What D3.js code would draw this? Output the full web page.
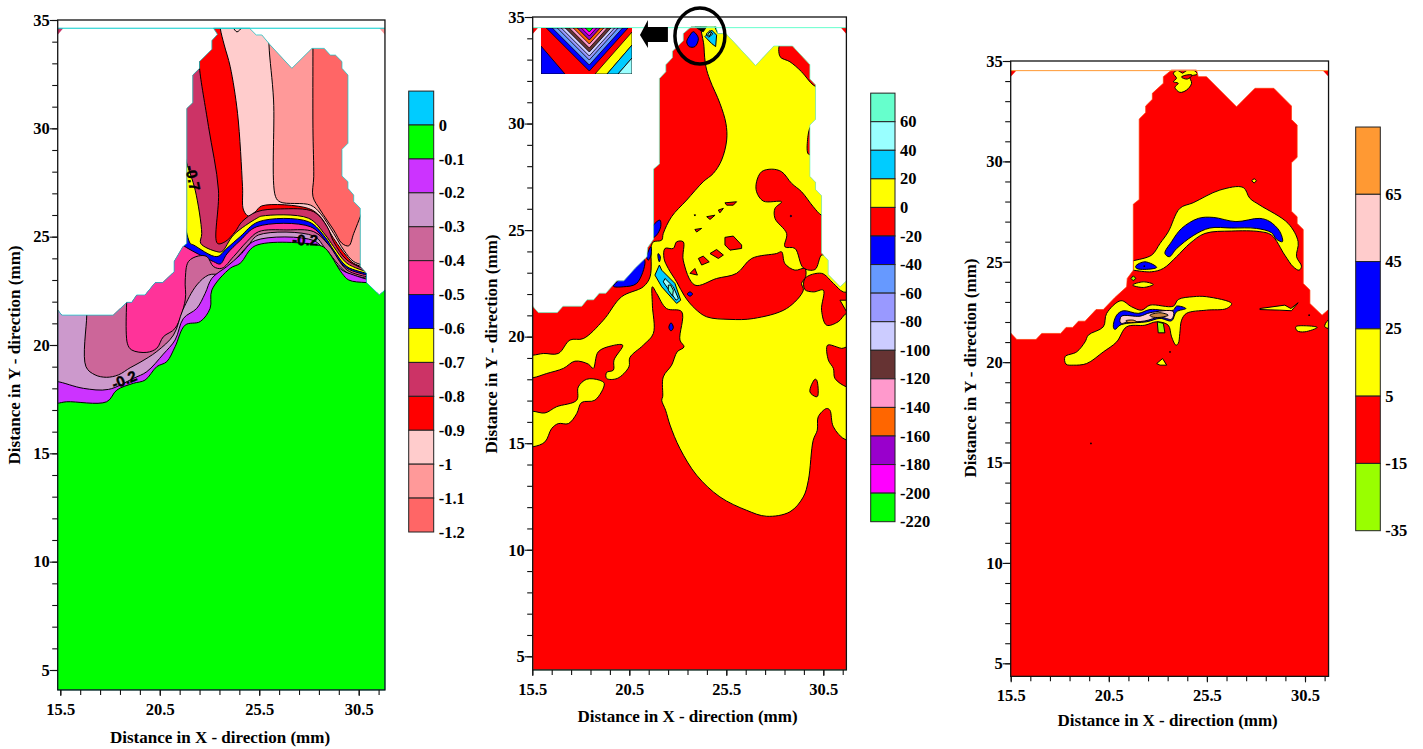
<!DOCTYPE html>
<html>
<head>
<meta charset="utf-8">
<style>
body { margin: 0; background: #fff; }
svg { display: block; }
text { font-family: "Liberation Serif", serif; font-weight: bold; fill: #000; }
</style>
</head>
<body>
<svg width="1423" height="749"></svg>
<script src="https://d3js.org/d3.v7.min.js"></script>
<script>
var xMajor = [15.5, 20.5, 25.5, 30.5];
var xMinor = d3.range(15.5, 32, 1);
var yMajor = [5, 10, 15, 20, 25, 30, 35];
var yMinor = d3.range(5, 36, 1);

var legend1Labels = [0, -0.1, -0.2, -0.3, -0.4, -0.5, -0.6, -0.7, -0.8, -0.9, -1, -1.1, -1.2];
var legend1Colors = ["#00CCFF", "#00FF00", "#CC33FF", "#CC99CC", "#CC6699", "#FF3399", "#0000FF", "#FFFF00", "#CC3366", "#FF0000", "#FFCCCC", "#FF9999", "#FF6666"];
var legend2Labels = [60, 40, 20, 0, -20, -40, -60, -80, -100, -120, -140, -160, -180, -200, -220];
var legend2Colors = ["#66FFCC", "#99FFFF", "#00CCFF", "#FFFF00", "#FF0000", "#0000FF", "#6699FF", "#9999FF", "#CCCCFF", "#663333", "#FF99CC", "#FF6600", "#9900CC", "#FF00FF", "#00FF00"];
var legend3Labels = [65, 45, 25, 5, -15, -35];
var legend3Colors = ["#FF9933", "#FFCCCC", "#0000FF", "#FFFF00", "#FF0000", "#99FF00"];

// outline of the section
var outline1 = [[15.37,21.62],[15.57,21.38],[18.17,21.38],[18.84,21.97],[19.09,21.97],[19.34,22.31],[19.76,22.31],[20.27,22.88],[20.65,22.88],[21.22,23.38],[21.22,23.85],[21.66,24.54],[21.86,24.69],[21.86,30.92],[22.16,31.18],[22.16,32.46],[22.5,32.77],[22.5,33.08],[23.12,33.65],[23.12,34.05],[23.4,34.34],[23.2,34.62],[25.01,34.62],[25.35,34.31],[25.63,34.31],[26.05,33.85],[27.14,32.77],[28.15,33.69],[28.77,33.69],[29.07,33.38],[29.33,33.38],[29.66,33.08],[29.66,32.77],[29.96,32.46],[29.96,29.31],[29.66,29.03],[29.66,27.8],[29.96,27.54],[29.96,27.23],[30.25,26.92],[30.25,26.62],[30.58,26.31],[30.58,23.62],[30.89,23.31],[30.89,22.88],[31.54,22.31],[31.82,22.54]];
var outline2 = [[15.5,21.45],[15.81,21.13],[16.79,21.13],[17.08,21.43],[18.05,21.43],[18.32,21.73],[18.66,21.73],[18.95,22.04],[19.29,22.04],[19.85,22.62],[20.22,22.62],[20.81,23.22],[21.41,23.75],[21.44,24.17],[21.75,24.58],[21.75,27.87],[22.05,28.1],[22.05,32.11],[22.38,32.43],[22.38,32.76],[22.72,33.09],[22.72,33.39],[23.28,33.89],[23.28,34.22],[23.7,34.55],[24.97,34.55],[25.06,34.22],[25.48,34.22],[27.01,32.72],[27.95,33.64],[28.91,33.64],[29.81,32.76],[29.81,32.09],[30.1,31.81],[30.1,30.2],[29.81,29.93],[29.81,27.52],[30.1,27.24],[30.1,26.91],[30.41,26.61],[30.41,23.92],[30.75,23.59],[30.75,22.92],[31.37,22.34],[31.7,22.62]];

// left panel: contours, painted top right to bottom
var c1a = [[28.2,35.2],[28.2,33.69],[28.2,30],[28.24,27.77],[28.2,26.85],[28.57,26.23],[29.24,25.31],[29.66,24.69],[30,24.58],[30.25,25.15],[30.7,26.2]];
var c1b = [[25.99,35.2],[25.99,33.85],[26.22,31.31],[26.32,26.85],[26.56,26.6],[28.07,26.46],[28.57,26.08],[29.24,25.15],[29.75,24.38],[30.25,23.85],[31,23.62]];
var c1c = [[23.5,35.2],[23.54,34.62],[23.74,33.85],[24.04,32.85],[24.41,30.69],[24.66,27.31],[24.71,26.23],[24.96,25.95],[25.3,26.15],[25.63,26.42],[27.98,26.3],[28.57,25.92],[29.24,24.92],[29.91,24.08],[30.25,23.77],[30.92,23.54]];
var c1d = [[22.5,33.2],[22.5,32.77],[22.95,30.08],[23.45,27.15],[23.4,24.69],[23.79,24.77],[24.29,25.23],[24.63,25.69],[25.38,26.15],[26.56,26.28],[28.24,26.15],[28.91,25.46],[29.24,24.77],[29.91,23.92],[30.92,23.46]];
var c1e = [[21.8,28.6],[21.86,28.38],[22.28,27.15],[22.61,25.15],[22.56,24.69],[23.37,24.31],[23.62,24.31],[24.21,25.08],[25.38,25.85],[25.63,25.95],[27.98,25.85],[28.82,25.08],[29.24,24.54],[29.91,23.77],[30.92,23.38]];
var c1f = [[21.8,25.4],[22.03,24.69],[22.19,24.62],[23.37,24.08],[23.87,24.46],[24.54,25],[25.47,25.69],[27.98,25.69],[28.82,24.97],[29.24,24.38],[29.91,23.62],[30.92,23.31]];
var c1g = [[21.5,24.75],[21.72,24.57],[23.2,23.85],[23.54,23.74],[23.87,24.2],[24.54,24.82],[25.38,25.46],[28.07,25.46],[28.82,24.82],[29.24,24.23],[29.91,23.54],[30.92,23.23]];
var c1h = [[18.87,22.6],[18.87,20.08],[19.09,19.77],[19.85,19.66],[20.35,19.85],[20.68,20.38],[21.27,20.77],[21.78,22.08],[21.78,23],[21.94,23.85],[22.45,24.11],[22.87,24.08],[23.2,23.62],[23.62,23.54],[24.21,24.08],[24.88,24.77],[25.47,25.23],[26.89,25.31],[28.24,25.23],[28.99,24.62],[29.91,23.46],[30.92,23.15]];
var c1i = [[16.83,22],[16.83,21.38],[16.79,19],[17.25,18.62],[17.83,18.51],[18.42,18.62],[19.01,18.95],[19.51,19.2],[20.35,19.7],[21.19,20.46],[21.66,21.62],[22.36,22.77],[22.95,23.23],[23.62,23.31],[24.21,23.85],[24.96,24.62],[25.47,25.08],[28.24,25.03],[28.82,24.46],[29.91,23.34],[30.92,23.08]];
var c1j = [[15,18.3],[15.35,18.31],[16.66,18],[17.92,17.95],[19.17,18.46],[19.85,18.77],[20.68,19.58],[21.27,20.23],[21.69,21.23],[22.36,21.69],[22.78,22.38],[23.12,23.08],[23.87,23.62],[24.54,24.15],[25.3,24.82],[28.24,24.82],[28.82,24.31],[29.66,23.46],[30.25,23.23],[30.92,23.03]];
var c1k = [[15,17.3],[15.35,17.31],[15.82,17.38],[17.83,17.38],[18.34,17.92],[19.17,18.23],[19.76,18.38],[20.35,19],[20.85,19.23],[21.27,19.92],[21.78,20.92],[22.53,21.08],[23.03,21.69],[23.12,22.54],[24.04,23.54],[24.54,23.77],[25.3,24.58],[28.4,24.62],[28.82,24.46],[29.66,23.31],[30,23],[30.89,22.88],[32.6,22.88]];
var c1Stray = [[24.21,34.62],[24.38,34.45],[24.6,34.62]];
var contours1 = [c1a, c1b, c1c, c1d, c1e, c1f, c1g, c1h, c1i, c1j, c1k];
var contour1Colors = ["#FF9999", "#FFCCCC", "#FF0000", "#CC3366", "#FFFF00", "#0000FF", "#FF3399", "#CC6699", "#CC99CC", "#CC33FF", "#00FF00"];
var labels1 = [[22.16,27.71,"-0.7",78],[27.81,24.85,"-0.2",2],[18.71,18.39,"-0.2",-22]];

// middle panel: yellow blobs on red
var y2Main = [[24.35,35.17],[24.35,33.61],[24.45,32.67],[24.66,32.04],[25.17,30.95],[25.48,30.01],[25.52,29.23],[25.26,28.29],[24.83,27.66],[24.31,27.27],[23.46,26.41],[22.68,25.63],[22.25,24.84],[22.17,24.53],[21.74,24.45],[21.65,24.3],[21.62,24.14],[21.57,22.81],[21.22,22.34],[20.1,21.87],[19.16,20.77],[18.13,19.91],[17.44,19.84],[16.84,19.21],[16.07,19.21],[15.52,19.13],[14.52,19.13],[14.52,18.04],[15.52,18.07],[16.24,18.27],[17.1,18.51],[17.7,18.85],[18.39,18.71],[18.64,18.51],[18.9,19.29],[19.59,19.57],[20.16,19.6],[19.71,18.9],[19.68,18.43],[19.33,18.32],[19.33,18.04],[19.88,18.04],[20.48,18.58],[20.53,19.02],[21.22,19.6],[21.74,20.15],[21.69,21.48],[21.69,22.34],[21.91,22.03],[22.42,21.32],[23.2,21.17],[23.11,19.84],[23.32,19.52],[22.97,19.29],[22.68,18.66],[22.25,18.11],[22.22,17.18],[22.17,17.02],[22.37,16.55],[22.6,15.85],[23.11,14.75],[23.97,13.5],[25.17,12.48],[26.55,11.85],[27.58,11.57],[28.78,11.78],[29.47,12.48],[29.73,13.26],[29.98,15.14],[30.19,15.61],[30.24,16.24],[30.67,16.63],[30.84,16.55],[31.02,15.77],[31.7,15.14],[33.42,15.14],[33.42,35.17]];
var y2Low = [[14.52,16.5],[15.52,16.5],[16.15,16.42],[16.75,16.71],[17.79,17.02],[17.87,17.64],[18.3,18],[18.95,17.96],[19.21,17.8],[18.73,17.02],[18.04,16.91],[17.79,16.39],[17.36,15.92],[16.84,15.92],[16.5,15.69],[16.15,15.06],[15.52,14.83],[14.52,14.83]];
var r2Top = [[28.3,33.8],[28.95,33.8],[30,32.8],[30.3,31.7],[29.98,31.81],[29.38,32.43],[28.78,32.9],[28.27,33.14]];
var r2Wall = [[29.85,29.85],[29.68,29.15],[29.73,28.57],[30,28.57],[30,29.85]];
var r2Big = [[27.06,27.27],[27.32,27.74],[27.84,27.86],[28.35,27.74],[28.87,27.19],[29.38,26.8],[29.98,26.1],[30.41,25.7],[30.67,25.7],[30.67,23.83],[30.41,23.83],[30.07,23.15],[29.47,23.23],[29.04,24.14],[28.52,24.22],[28.61,24.84],[28.01,25.55],[28.01,26.02],[28.35,26.33],[27.41,26.36],[27.06,26.8]];
var r2Band = [[22.34,24.14],[22.77,24.14],[22.94,24.45],[23.28,24.45],[23.28,23.59],[23.88,22.42],[25,22.73],[26.03,22.97],[26.81,23.67],[28.09,23.9],[28.35,23.98],[28.52,23.43],[29.04,23.12],[29.55,23.2],[29.59,22.81],[29.38,22.5],[29.47,22.18],[28.61,21.32],[26.89,20.85],[25.69,20.81],[24.49,20.93],[23.88,21.32],[23.37,21.87],[22.94,22.57],[22.51,23.2],[22.29,23.67]];
var r2Right = [[29.55,22.73],[30.41,22.97],[31.02,22.5],[31.53,22.1],[32.2,22.1],[32.2,21.01],[31.7,21.09],[31.27,20.7],[30.67,20.54],[30.41,21.24],[30.5,22.18],[30,22.1],[29.55,22.21]];
var y2Hole = [[31.36,21.71],[32.2,21.71],[32.2,21.13],[31.7,21.17]];
var r2Low = [[30.72,19.6],[31.19,19.52],[31.44,19.45],[32.2,19.6],[32.2,17.57],[31.7,17.64],[31.1,18.04],[31.02,18.51],[30.76,18.9]];
var r2Spot = [[29.81,17.41],[30.07,18],[30.16,17.96],[30.21,17.21],[30.12,17.18]];
var r2Small = [
  [[25.43,26.28],[26.03,26.33],[25.86,26.17],[25.52,26.17]],
  [[25.09,25.94],[25.35,26.02],[25.17,25.81]],
  [[24.49,25.63],[24.92,25.7],[24.66,25.5]],
  [[23.88,25.03],[24.23,25.08],[23.97,24.91]],
  [[25.43,24.66],[25.86,24.72],[26.29,24.3],[26.29,24.14],[25.69,24.06],[25.43,24.3]],
  [[24.66,23.9],[25,24.09],[25.35,23.83],[25.09,23.67]],
  [[24.06,23.67],[24.31,23.78],[24.62,23.51],[24.23,23.36]],
  [[23.63,22.97],[23.88,23.2],[24.01,22.89]],
  [[23.85,25.72],[23.91,25.72],[23.88,25.66]]
];
var b2Patches = [
  [[21.74,25.23],[22.08,25.47],[22.12,25.16],[21.91,24.77],[21.74,24.66],[21.57,24.84]],
  [[19.68,22.37],[20.3,22.9],[21.2,23.7],[21.31,23.51],[20.88,22.5],[20.19,22.34]],
  [[21.39,23.75],[21.62,24.22],[21.62,23.83],[21.48,23.59]],
  [[23.49,22],[23.63,22.1],[23.76,22],[23.63,21.9]],
  [[22.65,20.65],[22.77,20.43],[22.65,20.27],[22.54,20.43]],
  [[28.79,25.66],[28.83,25.7],[28.87,25.66],[28.83,25.62]],
  [[21.99,23.9],[22.1,23.75],[22.05,23.51],[21.98,23.72]],
  [[23.8,34.31],[24.06,34],[23.88,33.61],[23.59,33.61],[23.46,33.84],[23.63,34.15]]
];
var c2Lobe = [[22.05,23.36],[21.82,22.89],[22.17,22.34],[22.94,21.56],[23.15,21.71],[22.85,22.5],[22.17,23.12]];
var c2LobeMid = [[22.34,22.73],[22.25,22.57],[22.91,21.71],[23.03,21.79],[22.77,22.34]];
var c2LobeIn = [[22.51,22.42],[22.51,22.18],[22.73,21.9],[22.77,22.18],[22.63,22.42]];
var c2Top = [[24.4,34.08],[24.74,34.39],[25,34.15],[24.95,33.61],[24.74,33.76]];
var c2TopMid = [[24.46,34.2],[24.66,34.36],[24.8,34.2],[24.59,34.05]];
var c2TopIn = [[24.54,34.2],[24.66,34.29],[24.72,34.2],[24.6,34.12]];
var c2Sliver = [[24.9,34.55],[25.2,34.55],[25.3,34.25],[25.05,34.25]];
var k2Top = [[23.88,34.55],[24.49,34.55],[24.31,34.31],[24.14,34.39]];
var arrow2 = [[21.05,34.15],[21.46,34.86],[21.46,34.53],[22.49,34.53],[22.49,33.83],[21.46,33.83],[21.46,33.54]];

// inset of the middle panel, in its own small units
var insetDepths = [43, 37, 32, 28, 24, 20, 16, 12, 8, 4];
var insetColors = ["#0000FF", "#6699FF", "#9999FF", "#CCCCFF", "#663333", "#FF99CC", "#FF6600", "#9900CC", "#FF00FF", "#00FF00"];
var insetBlue = [[0,18],[24,46],[0,46]];
var insetYellow = [[54,46],[66,46],[91,17],[91,4]];
var insetCyan = [[66,46],[77,46],[91,30],[91,17]];
var insetPale = [[77,46],[91,46],[91,30]];

// right panel
var y3Top = [[23.79,34.39],[24.04,34.55],[24.8,34.55],[25.01,34.35],[24.63,34.22],[24.72,33.89],[24.46,33.55],[24.12,33.44],[23.87,33.69],[24.04,33.89],[23.79,33.97],[23.95,34.14]];
var r3Top = [[24.04,34.52],[24.46,34.52],[24.26,34.39]];
var r3Bite = [[24.2,34.2],[24.45,34.3],[24.75,34.3],[24.5,34.1]];
var y3Arch = [[21.6,25],[21.75,25.05],[22.68,25.33],[23.11,25.91],[23.53,26.49],[24.12,27.66],[24.8,27.94],[26.16,28.57],[27.35,28.7],[27.69,28.16],[28.2,27.82],[29.64,26.91],[30.15,26],[30.07,25.25],[30.32,24.78],[30.2,24.58],[29.9,24.75],[29.47,25.33],[28.79,26.33],[28.2,26.5],[26.76,26.53],[25.4,26.41],[24.63,25.91],[23.95,25.25],[23.28,24.67],[22.68,24.5],[21.75,24.58],[21.6,24.6]];
var b3Arch = [[23.36,25.42],[23.7,26],[24.21,26.66],[25.06,27.16],[25.82,27.21],[26.98,27],[28.2,27.16],[28.71,27],[29.22,26.5],[29.35,26],[29.05,26.12],[28.79,26.45],[28.03,26.66],[26.76,26.68],[25.65,26.68],[24.8,26.3],[23.95,25.65],[23.58,25.25]];
var b3Small = [[21.87,24.78],[22.34,25],[22.94,24.72],[22.34,24.62],[21.92,24.67]];
var g3Diamond = [[21.63,24.17],[21.75,24.3],[21.88,24.17],[21.75,24.05]];
var y3Lens = [[21.71,23.84],[22.26,24],[22.77,23.87],[22.26,23.72]];
var y3Spot = [[27.78,29.04],[27.91,29.14],[28.03,29.04],[27.91,28.92]];
var y3Lower = [[18.27,20.27],[18.86,20.51],[19.29,21.01],[19.46,21.35],[20.22,21.76],[20.39,22.43],[21.12,23.06],[21.66,22.76],[22.17,22.59],[22.6,22.84],[23.79,22.79],[24.04,23.12],[24.8,23.26],[25.48,23.26],[26.76,22.92],[26.5,22.67],[25.48,22.59],[24.46,22.43],[24.21,22.09],[24.12,21.43],[24.04,20.93],[23.92,20.85],[23.7,21.26],[23.53,21.84],[22.94,22.01],[22.34,21.84],[21.41,21.76],[20.9,21.01],[20.22,20.51],[19.37,19.93],[18.69,19.85],[18.32,19.9]];
var b3Lower = [[20.73,21.76],[20.9,22.34],[21.24,22.56],[22,22.43],[22.6,22.62],[23.79,22.59],[23.95,22.79],[24.43,22.67],[23.95,22.51],[23.7,22.06],[23.11,22.18],[22.43,22.01],[21.41,21.93],[21.07,21.84],[20.81,21.63]];
var p3Lower = [[21.07,22.01],[21.15,22.29],[22.09,22.29],[22.6,22.46],[23.79,22.52],[23.7,22.14],[23.11,22.25],[22.34,22.05],[21.41,21.98],[21.15,21.93]];
var o3Brown = [[22.6,22.34],[23.11,22.46],[23.53,22.34],[23.11,22.23],[22.68,22.26]];
var o3Small = [[21.37,22.06],[21.75,22.09],[21.92,22.01],[21.49,21.98]];
var g3Low = [[22.97,22.01],[23.28,21.93],[23.36,21.46],[23.02,21.46]];
var y3Low = [[22.94,19.93],[23.24,20.18],[23.45,19.85],[23.11,19.85]];
var y3Right1 = [[28.2,22.67],[29.47,22.84],[29.78,22.67],[30.15,22.96],[29.81,22.56],[29.22,22.59],[28.2,22.62]];
var y3Right2 = [[30.03,21.76],[30.58,21.81],[31.12,21.73],[30.49,21.51],[30.1,21.56]];
var y3Right3 = [[31.51,21.76],[31.68,22.09],[32.1,22.09],[32.1,21.68]];
var k3Dots = [[22.31,24.78],[23.62,20.51],[30.71,22.34],[19.59,15.95]];

var svg = d3.select("svg");
var smoothOpen = d3.curveCatmullRom.alpha(0.5);
var smoothClosed = d3.curveCatmullRomClosed.alpha(0.5);

function makePanel(o) {
  var x = d3.scaleLinear().domain([15.5, 30.5]).range(o.xr);
  var y = d3.scaleLinear().domain([5, 35]).range(o.yr);
  var p = { x: x, y: y, o: o };
  p.open = d3.line().x(function(d) { return x(d[0]); }).y(function(d) { return y(d[1]); }).curve(smoothOpen);
  p.blob = d3.line().x(function(d) { return x(d[0]); }).y(function(d) { return y(d[1]); }).curve(smoothClosed);
  p.sharp = d3.line().x(function(d) { return x(d[0]); }).y(function(d) { return y(d[1]); }).curve(d3.curveLinearClosed);

  var left = x(o.xmin), right = x(o.xmax), bottom = y(o.ymin), top = y(35);

  svg.append("clipPath").attr("id", o.id)
    .append("path").attr("d", p.sharp(o.outline.concat([[o.xmax, o.ymin], [o.xmin, o.ymin]])));

  p.g = svg.append("g").attr("clip-path", "url(#" + o.id + ")");
  p.g.append("rect").attr("x", left).attr("y", top).attr("width", right - left).attr("height", bottom - top).attr("fill", o.base);

  // what sits on top of the fills
  p.finish = function() {
    svg.append("path").attr("d", p.sharp(o.outline.concat([[o.xmax, o.ymin], [o.xmin, o.ymin]])))
      .attr("fill", "none").attr("stroke", o.edge).attr("stroke-width", 0.7);
    [[[o.xmin, o.ytop], [o.xmin + 0.28, o.ytop], [o.xmin, o.ytop - 0.3]],
     [[o.xmax, o.ytop], [o.xmax - 0.28, o.ytop], [o.xmax, o.ytop - 0.3]]].forEach(function(t, i) {
      svg.append("path").attr("d", p.sharp(t)).attr("fill", o.corners[i]);
    });
    svg.append("line").attr("x1", left).attr("x2", right).attr("y1", y(o.ytop)).attr("y2", y(o.ytop))
      .attr("stroke", o.topLine).attr("stroke-width", 1);

    svg.append("rect").attr("x", left).attr("y", top).attr("width", right - left).attr("height", bottom - top)
      .attr("fill", "none").attr("stroke", "#111").attr("stroke-width", 1.3);

    var ax = svg.append("g").attr("transform", "translate(0," + bottom + ")")
      .call(d3.axisBottom(x).tickValues(xMajor).tickSize(6).tickPadding(7).tickFormat(d3.format(".1f")));
    var axm = svg.append("g").attr("transform", "translate(0," + bottom + ")")
      .call(d3.axisBottom(x).tickValues(xMinor).tickSize(5).tickFormat(""));
    var ay = svg.append("g").attr("transform", "translate(" + left + ",0)")
      .call(d3.axisLeft(y).tickValues(yMajor).tickSize(8).tickPadding(0));
    var aym = svg.append("g").attr("transform", "translate(" + left + ",0)")
      .call(d3.axisLeft(y).tickValues(yMinor).tickSize(5.5).tickFormat(""));
    [ax, axm, ay, aym].forEach(function(a) {
      a.select(".domain").remove();
      a.selectAll("line").attr("stroke", "#111").attr("stroke-width", 1.1);
      a.selectAll("text").attr("font-family", "Liberation Serif").attr("font-size", 16.5).attr("font-weight", "bold");
    });

    svg.append("text").attr("x", o.xTitle[0]).attr("y", o.xTitle[1]).attr("text-anchor", "middle")
      .attr("dy", "0.32em").attr("font-size", 17).text("Distance in X - direction (mm)");
    svg.append("text").attr("transform", "translate(" + o.yTitle[0] + "," + o.yTitle[1] + ") rotate(-90)")
      .attr("text-anchor", "middle").attr("dy", "0.32em").attr("font-size", 17).text("Distance in Y - direction (mm)");

    // colour bar
    var step = o.labels[0] - o.labels[1];
    var ly = d3.scaleLinear().domain([o.labels[0], o.labels[o.labels.length - 1]]).range(o.legendY);
    var lg = svg.append("g");
    lg.selectAll("rect").data(o.colors).enter().append("rect")
      .attr("x", o.legendX[0]).attr("width", o.legendX[1] - o.legendX[0])
      .attr("y", function(d, i) { return ly(o.labels[i] + step); })
      .attr("height", function(d, i) { return ly(o.labels[i]) - ly(o.labels[i] + step); })
      .attr("fill", function(d) { return d; })
      .attr("stroke", "#222").attr("stroke-width", 1);
    lg.selectAll("text").data(o.labels).enter().append("text")
      .attr("x", o.legendX[1] + 5).attr("y", function(d) { return ly(d); })
      .attr("dy", "0.34em").attr("font-size", 16.5)
      .text(function(d) { return d; });
  };
  return p;
}

function island(p, pts, fill, sharp) {
  p.g.append("path").attr("d", (sharp ? p.sharp : p.blob)(pts))
    .attr("fill", fill).attr("stroke", "#000").attr("stroke-width", 1);
}

// left panel
var p1 = makePanel({
  id: "clip1", xr: [60.3, 358.7], yr: [670, 20], xmin: 15.37, xmax: 31.82, ymin: 4.08, ytop: 34.62,
  outline: outline1, base: "#FF6666", edge: "#00CCCC", topLine: "#00CCCC", corners: ["#CC3366", "#FF9999"],
  xTitle: [220, 738], yTitle: [15, 355],
  labels: legend1Labels, colors: legend1Colors, legendX: [408.7, 433.7], legendY: [125, 532]
});
contours1.forEach(function(c, i) {
  var last = c[c.length - 1];
  var d = p1.open(c) + "L" + p1.x(33) + "," + p1.y(last[1]) + "L" + p1.x(33) + "," + p1.y(3) +
    "L" + p1.x(14) + "," + p1.y(3) + "L" + p1.x(14) + "," + p1.y(c[0][1]) + "Z";
  p1.g.append("path").attr("d", d).attr("fill", contour1Colors[i]);
  p1.g.append("path").attr("d", p1.open(c)).attr("fill", "none").attr("stroke", "#000").attr("stroke-width", 1);
});
p1.g.append("path").attr("d", p1.open(c1Stray)).attr("fill", "none").attr("stroke", "#000").attr("stroke-width", 1);
p1.finish();
svg.selectAll(".cl").data(labels1).enter().append("text")
  .attr("transform", function(d) { return "translate(" + p1.x(d[0]) + "," + p1.y(d[1]) + ") rotate(" + d[3] + ")"; })
  .attr("text-anchor", "middle").attr("dy", "0.35em")
  .style("font-family", "'Liberation Sans', sans-serif").attr("font-size", 15)
  .attr("stroke", "#000").attr("stroke-width", 0.4)
  .text(function(d) { return d[2]; });

// middle panel
var p2 = makePanel({
  id: "clip2", xr: [532.3, 823.3], yr: [656.3, 17], xmin: 15.52, xmax: 31.69, ymin: 4.36, ytop: 34.5,
  outline: outline2, base: "#FF0000", edge: "#66FFCC", topLine: "#66FFCC", corners: ["#FF0000", "#FF0000"],
  xTitle: [687.5, 717], yTitle: [491.7, 344],
  labels: legend2Labels, colors: legend2Colors, legendX: [870.7, 895], legendY: [121.7, 521.7]
});
island(p2, y2Main, "#FFFF00");
island(p2, y2Low, "#FFFF00");
[r2Top, r2Wall, r2Big, r2Band, r2Right].forEach(function(r) { island(p2, r, "#FF0000"); });
island(p2, y2Hole, "#FFFF00", true);
[r2Low, r2Spot].forEach(function(r) { island(p2, r, "#FF0000"); });
r2Small.forEach(function(r) { island(p2, r, "#FF0000", true); });
b2Patches.forEach(function(r) { island(p2, r, "#0000FF"); });
island(p2, c2Lobe, "#00CCFF", true);
island(p2, c2LobeMid, "#99FFFF", true);
island(p2, c2LobeIn, "#66FFCC", true);
island(p2, c2Sliver, "#00CCFF", true);
island(p2, c2Top, "#00CCFF", true);
island(p2, c2TopMid, "#99FFFF", true);
island(p2, c2TopIn, "#66FFCC", true);
island(p2, k2Top, "#000", true);
p2.finish();

var arrowLine = d3.line().x(function(d) { return p2.x(d[0]); }).y(function(d) { return p2.y(d[1]); }).curve(d3.curveLinearClosed);
svg.append("path").attr("d", arrowLine(arrow2)).attr("fill", "#000");
svg.append("ellipse").attr("cx", p2.x(24.14)).attr("cy", p2.y(34.11)).attr("rx", 25).attr("ry", 28)
  .attr("fill", "none").attr("stroke", "#000").attr("stroke-width", 3.5);

// inset
var ix = d3.scaleLinear().domain([0, 91]).range([541, 632]);
var iy = d3.scaleLinear().domain([0, 46]).range([28, 74]);
var insetLine = d3.line().x(function(d) { return ix(d[0]); }).y(function(d) { return iy(d[1]); }).curve(d3.curveLinearClosed);
svg.append("clipPath").attr("id", "clipInset").append("rect")
  .attr("x", ix(0)).attr("y", iy(0)).attr("width", ix(91) - ix(0)).attr("height", iy(46) - iy(0));
var inset = svg.append("g").attr("clip-path", "url(#clipInset)");
inset.append("rect").attr("x", ix(0)).attr("y", iy(0)).attr("width", ix(91) - ix(0)).attr("height", iy(46) - iy(0)).attr("fill", "#FF0000");
[[insetBlue, "#0000FF"], [insetYellow, "#FFFF00"], [insetCyan, "#00CCFF"], [insetPale, "#99FFFF"]].forEach(function(s) {
  inset.append("path").attr("d", insetLine(s[0])).attr("fill", s[1]).attr("stroke", "#000").attr("stroke-width", 0.8);
});
insetDepths.forEach(function(d, i) {
  inset.append("path").attr("d", insetLine([[48.3 - d, 0], [48.3, d], [48.3 + d * 0.9, 0]]))
    .attr("fill", insetColors[i]).attr("stroke", "#000").attr("stroke-width", 0.8);
});

// right panel
var p3 = makePanel({
  id: "clip3", xr: [1010.7, 1305], yr: [663.3, 61], xmin: 15.5, xmax: 31.7, ymin: 4.35, ytop: 34.52,
  outline: outline2, base: "#FF0000", edge: "#FF3300", topLine: "#FF9933", corners: ["#FF0000", "#FF0000"],
  xTitle: [1167.7, 720.7], yTitle: [971, 368],
  labels: legend3Labels, colors: legend3Colors, legendX: [1355.7, 1380.3], legendY: [194.3, 530.7]
});
island(p3, y3Top, "#FFFF00");
island(p3, r3Top, "#FF0000", true);
island(p3, r3Bite, "#FF0000");
island(p3, y3Arch, "#FFFF00");
island(p3, b3Arch, "#0000FF");
island(p3, b3Small, "#0000FF");
island(p3, g3Diamond, "#99FF00", true);
island(p3, y3Lens, "#FFFF00");
island(p3, y3Spot, "#FFFF00", true);
island(p3, y3Lower, "#FFFF00");
island(p3, b3Lower, "#0000FF");
island(p3, p3Lower, "#FFCCCC");
island(p3, o3Brown, "#CC8844");
island(p3, o3Small, "#FF9933");
island(p3, g3Low, "#99FF00", true);
island(p3, y3Low, "#FFFF00", true);
island(p3, y3Right1, "#FFFF00", true);
island(p3, y3Right2, "#FFFF00");
island(p3, y3Right3, "#FFFF00");
k3Dots.forEach(function(d) {
  p3.g.append("circle").attr("cx", p3.x(d[0])).attr("cy", p3.y(d[1])).attr("r", 0.9).attr("fill", "#000");
});
p3.finish();
</script>
</body>
</html>
